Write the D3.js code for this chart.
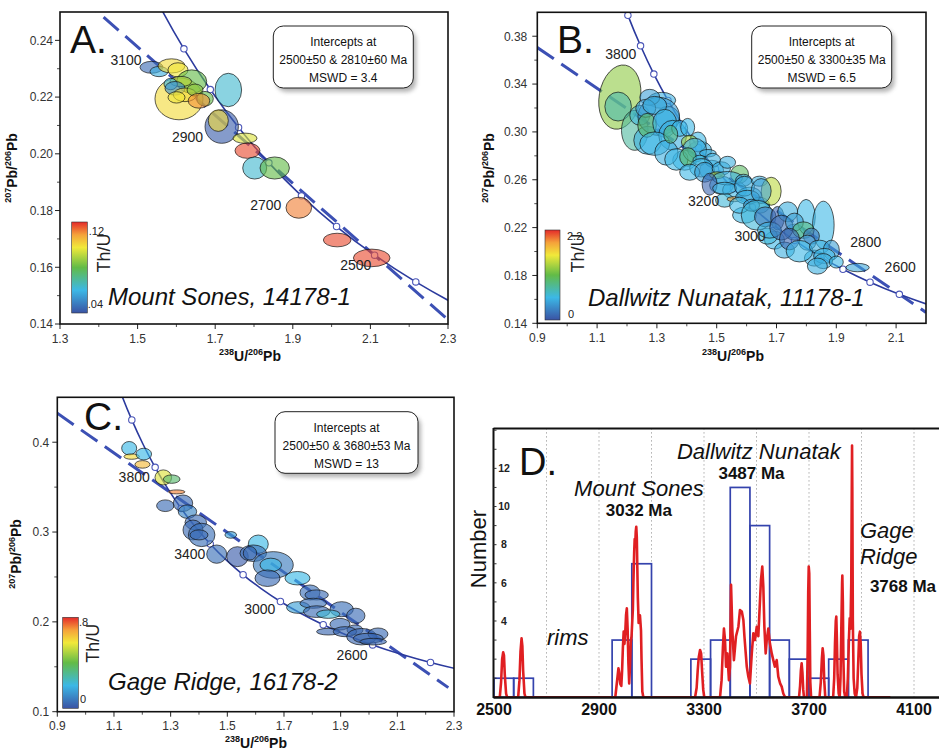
<!DOCTYPE html>
<html><head><meta charset="utf-8">
<script src="https://cdn.jsdelivr.net/npm/d3@7"></script>
<style>body{margin:0;background:#fff}svg{display:block;font-family:Arial,"Liberation Sans",sans-serif}</style>
</head><body>
<svg id="c" width="939" height="750"></svg>
<script>
// ---------------- DATA ----------------
// Concordia reference points (age Ma, 238U/206Pb, 207Pb/206Pb)
const concAge = [2200,2300,2400,2500,2600,2700,2800,2900,3000,3100,3200,3300,3400,3500,3600,3700,3800,3900,4000,4100,4200];
const concX = [2.4585,2.3324,2.2170,2.1108,2.0128,1.9223,1.8384,1.7602,1.6874,1.6194,1.5557,1.4959,1.4397,1.3868,1.3370,1.2898,1.2453,1.2030,1.1630,1.1249,1.0888];
const concY = [0.13782,0.14603,0.15483,0.16426,0.17437,0.18520,0.19682,0.20928,0.22266,0.23701,0.25243,0.26899,0.28675,0.30581,0.32631,0.34833,0.37201,0.39746,0.42483,0.45428,0.48619];

// Discordia end points
const discA = [[1.30,0.2617],[2.30,0.1415]];
const discB = [[0.90,0.3705],[2.20,0.1491]];
const discC = [[0.90,0.4323],[2.28,0.1268]];

// Ellipses: [238U/206Pb, 207Pb/206Pb, half-width x, half-height y, Th/U, tilt]
const ellA = [
[1.6067,0.2194,0.0619,0.0074,0.100],[1.5358,0.2305,0.0296,0.0021,0.045],[1.5552,0.2290,0.0232,0.0018,0.058],
[1.5874,0.2310,0.0348,0.0025,0.100],[1.6041,0.2296,0.0258,0.0025,0.098],[1.6394,0.2255,0.0387,0.0041,0.080],
[1.6113,0.2255,0.0278,0.0018,0.090],[1.5853,0.2246,0.0173,0.0020,0.060],[1.5964,0.2231,0.0258,0.0024,0.052],
[1.6222,0.2208,0.0302,0.0024,0.100],[1.6480,0.2225,0.0206,0.0021,0.085],[1.6003,0.2199,0.0219,0.0020,0.098],
[1.6737,0.2194,0.0214,0.0026,0.080],[1.6582,0.2187,0.0278,0.0026,0.110],[1.7338,0.2225,0.0343,0.0059,0.063],
[1.7168,0.2096,0.0430,0.0059,0.042],[1.7080,0.2117,0.0258,0.0038,0.100],[1.7768,0.2055,0.0309,0.0018,0.095],
[1.7832,0.2011,0.0322,0.0027,0.117],[1.8018,0.1950,0.0309,0.0039,0.063],[1.8534,0.1950,0.0379,0.0039,0.080],
[1.9155,0.1810,0.0330,0.0037,0.112],[2.0144,0.1696,0.0356,0.0024,0.117],[2.1034,0.1633,0.0472,0.0031,0.117]
];
const ellB = [
[1.1760,0.3291,0.0691,0.0271,1.25,10],[1.1703,0.3212,0.0444,0.0121,0.75],[1.2260,0.3013,0.0444,0.0167,0.80],
[1.2694,0.2930,0.0467,0.0117,0.50],[1.3161,0.3264,0.0467,0.0067,0.50],[1.3929,0.2763,0.0400,0.0083,0.55],
[1.4429,0.2847,0.0400,0.0075,0.50],[1.4830,0.2680,0.0400,0.0083,0.55],[1.5163,0.2554,0.0400,0.0075,0.50],
[1.5597,0.2513,0.0400,0.0075,0.55],[1.6098,0.2471,0.0400,0.0067,0.50],[1.5931,0.2304,0.0400,0.0067,0.55],
[1.6432,0.2387,0.0334,0.0067,0.60],[1.6933,0.2095,0.0334,0.0075,0.55],[1.7266,0.2012,0.0334,0.0067,0.50],
[1.8267,0.1945,0.0334,0.0067,0.50],[1.7600,0.2162,0.0334,0.0067,0.50],[1.3362,0.3114,0.0400,0.0100,0.55],
[1.2427,0.3139,0.0334,0.0083,0.60],[1.5264,0.2429,0.0300,0.0058,0.60],[1.6699,0.2129,0.0334,0.0067,0.60],
[1.3061,0.3130,0.0694,0.0159,0.38],[1.2761,0.3289,0.0334,0.0067,0.42],[1.2627,0.3197,0.0334,0.0075,0.42],
[1.2928,0.3222,0.0400,0.0075,0.50],[1.2671,0.3055,0.0310,0.0100,1.00],[1.3261,0.3072,0.0400,0.0117,0.55],
[1.3528,0.2972,0.0467,0.0125,0.50],[1.2928,0.2902,0.0501,0.0098,0.55],[1.3318,0.2826,0.0390,0.0104,0.50],
[1.3652,0.2770,0.0390,0.0090,0.55],[1.3762,0.3030,0.0267,0.0067,0.55],[1.4029,0.3038,0.0234,0.0075,0.55],
[1.3462,0.2980,0.0234,0.0075,0.90],[1.4373,0.2916,0.0277,0.0083,0.55],[1.4096,0.2916,0.0277,0.0056,1.30],
[1.4262,0.2847,0.0400,0.0100,0.50],[1.4039,0.2791,0.0277,0.0077,1.00],[1.4706,0.2822,0.0277,0.0031,0.50],
[1.4429,0.2763,0.0224,0.0042,0.60],[1.4863,0.2763,0.0267,0.0058,0.50],[1.4486,0.2700,0.0390,0.0077,0.55],
[1.4096,0.2663,0.0334,0.0067,0.55],[1.4596,0.2663,0.0334,0.0083,0.42],[1.5154,0.2694,0.0307,0.0056,0.50],
[1.5364,0.2746,0.0267,0.0050,0.50],[1.5013,0.2638,0.0250,0.0028,1.35],[1.5764,0.2646,0.0300,0.0075,1.00],
[1.5364,0.2613,0.0500,0.0056,0.50],[1.4763,0.2563,0.0250,0.0092,0.10],[1.5264,0.2529,0.0400,0.0050,0.50],
[1.5898,0.2596,0.0267,0.0050,0.38],[1.5931,0.2546,0.0334,0.0083,0.50],[1.6432,0.2588,0.0267,0.0042,0.50],
[1.5597,0.2438,0.0250,0.0021,1.90],[1.6031,0.2454,0.0400,0.0058,0.50],[1.6822,0.2504,0.0334,0.0117,1.40],
[1.6488,0.2506,0.0334,0.0104,0.42],[1.5764,0.2387,0.0334,0.0067,0.55],[1.6165,0.2387,0.0267,0.0050,0.38],
[1.6348,0.2304,0.0527,0.0125,0.60],[1.6625,0.2290,0.0360,0.0083,0.20],[1.7032,0.2279,0.0224,0.0098,0.10],
[1.7376,0.2332,0.0334,0.0083,0.50],[1.7990,0.2290,0.0307,0.0146,0.55],[1.8567,0.2221,0.0360,0.0200,0.55],
[1.6765,0.2179,0.0400,0.0067,0.50],[1.7166,0.2200,0.0390,0.0104,0.15],[1.7600,0.2246,0.0300,0.0075,0.42],
[1.7900,0.2179,0.0360,0.0069,0.90],[1.7433,0.2104,0.0334,0.0090,0.10],[1.8167,0.2129,0.0267,0.0067,0.20],
[1.8034,0.2074,0.0277,0.0063,0.38],[1.7767,0.2003,0.0444,0.0090,0.55],[1.8434,0.2039,0.0334,0.0056,0.50],
[1.8834,0.2012,0.0267,0.0083,0.42],[1.8600,0.1963,0.0360,0.0063,0.55],[1.8567,0.1920,0.0307,0.0063,0.50],
[1.9000,0.1912,0.0234,0.0050,0.55],[1.8367,0.1878,0.0334,0.0067,0.50],[1.9712,0.1866,0.0390,0.0035,0.45]
];
const ellC = [
[1.1537,0.3933,0.0265,0.0075,0.20],[1.1625,0.3840,0.0272,0.0030,0.60],[1.2052,0.3868,0.0275,0.0065,0.20],
[1.2006,0.3753,0.0265,0.0042,0.65],[1.2740,0.3608,0.0293,0.0084,0.55],[1.3037,0.3589,0.0293,0.0047,0.35],
[1.3213,0.3447,0.0293,0.0022,0.72],[1.2811,0.3293,0.0307,0.0065,0.05],[1.3436,0.3321,0.0342,0.0092,0.05],
[1.3594,0.3227,0.0325,0.0075,0.10],[1.3887,0.3107,0.0381,0.0084,0.05],[1.3788,0.3023,0.0353,0.0111,0.05],
[1.4095,0.2968,0.0469,0.0130,0.06],[1.4000,0.2968,0.0318,0.0056,0.05],[1.5122,0.2968,0.0205,0.0037,0.15],
[1.4625,0.2754,0.0353,0.0102,0.06],[1.5359,0.2726,0.0381,0.0111,0.02],[1.6093,0.2865,0.0353,0.0102,0.20],
[1.5916,0.2764,0.0469,0.0092,0.06],[1.5800,0.2764,0.0236,0.0075,0.05],[1.6622,0.2634,0.0706,0.0148,0.08],
[1.6534,0.2634,0.0381,0.0075,0.20],[1.6417,0.2486,0.0441,0.0092,0.05],[1.7476,0.2486,0.0441,0.0075,0.20],
[1.7917,0.2327,0.0353,0.0084,0.06],[1.8153,0.2300,0.0413,0.0056,0.05],[1.7504,0.2160,0.0413,0.0065,0.15],
[1.8033,0.2207,0.0469,0.0056,0.06],[1.8153,0.2114,0.0469,0.0065,0.05],[1.9035,0.2141,0.0413,0.0084,0.06],
[1.8563,0.2086,0.0413,0.0047,0.22],[1.9533,0.2068,0.0325,0.0084,0.05],[1.8975,0.1974,0.0353,0.0065,0.05],
[1.9505,0.1910,0.0282,0.0056,0.05],[1.8563,0.1891,0.0413,0.0037,0.04],[1.9152,0.1891,0.0413,0.0056,0.04],
[1.9741,0.1835,0.0529,0.0092,0.04],[2.0317,0.1865,0.0353,0.0067,0.05],[1.9974,0.1817,0.0529,0.0056,0.04],
[2.0150,0.1780,0.0469,0.0037,0.04]
];

// Concordia age labels [text, x, y]
const ageLabA = [["3100",1.4701,0.2331],["2900",1.6286,0.2060],["2700",1.8304,0.1819],["2500",2.0624,0.1609]];
const ageLabB = [["3800",1.1793,0.3648],["3200",1.4563,0.2421],["3000",1.6114,0.2129],["2800",1.9985,0.2079],["2600",2.1137,0.1870]];
const ageLabC = [["3800",1.1713,0.3608],["3400",1.3675,0.2754],["3000",1.6145,0.2141],["2600",1.9399,0.1631]];

const legendA = ["Intercepts at","2500±50 & 2810±60 Ma","MSWD = 3.4"];
const legendB = ["Intercepts at","2500±50 & 3300±35 Ma","MSWD = 6.5"];
const legendC = ["Intercepts at","2500±50 & 3680±53 Ma","MSWD = 13"];

// Panel D histogram (75 Ma bins) and probability curve
const binWidth = 75;
const binStart = [2500,2575,2950,3025,3250,3325,3400,3475,3550,3625,3700,3775,3850];
const binCount = [1,1,3,7,2,3,11,9,3,2,1,2,3];
const pdfCurve = [
[2500,0],[2522,0],[2527,0.8],[2531,2.0],[2535,2.36],[2538,2.2],[2541,1.2],[2546,0.2],[2550,0],
[2592,0],[2597,0.9],[2601,2.4],[2605,3.09],[2608,2.7],[2611,1.4],[2616,0.2],[2620,0],
[2962,0],[2966,0.5],[2970,1.0],[2974,1.52],[2977,1.3],[2981,0.7],[2985,0.6],[2988,1.4],[2991,2.6],[2994,3.44],
[2997,2.8],[3000,3.4],[3003,4.3],[3006,4.66],[3009,3.6],[3012,1.8],[3015,0.73],[3018,1.6],[3021,2.9],[3024,3.2],
[3027,4.05],[3029,4.6],[3031,6.0],[3034,7.6],[3036,8.3],[3038,8.0],[3040,8.7],[3042,8.94],[3044,8.4],[3046,6.8],
[3048,5.2],[3051,3.9],[3054,4.2],[3056,4.3],[3058,3.9],[3060,3.5],[3062,2.0],[3065,0.3],[3069,0],
[3266,0],[3272,0.5],[3276,1.4],[3280,2.1],[3285,2.48],[3289,2.3],[3293,1.3],[3297,0.4],[3301,0],
[3361,0],[3367,0.9],[3372,2.6],[3376,3.6],[3380,3.0],[3384,1.6],[3389,2.3],[3395,0.9],[3399,1.6],[3403,5.9],
[3408,3.5],[3414,1.95],[3422,3.2],[3431,3.7],[3437,4.57],[3444,4.5],[3450,4.05],[3454,3.2],[3459,2.3],[3463,1.6],
[3469,1.08],[3475,0.73],[3482,2.3],[3488,3.35],[3494,3.0],[3501,3.7],[3507,3.2],[3511,4.4],[3517,6.15],[3522,6.85],
[3526,5.8],[3530,3.7],[3535,2.3],[3539,3.0],[3545,3.6],[3551,2.83],[3558,2.3],[3564,1.95],[3570,1.6],[3577,1.95],
[3583,1.08],[3590,0.73],[3596,0.56],[3602,0.2],[3609,0],
[3662,0],[3666,0.6],[3669,1.4],[3672,1.78],[3675,1.3],[3678,0.4],[3681,0],
[3692,0],[3695,2.5],[3697,5.5],[3699,6.85],[3701,6.5],[3703,3.5],[3705,0.8],[3708,0],
[3740,0],[3745,0.8],[3749,2.0],[3752,2.57],[3755,2.2],[3758,0.9],[3762,0],
[3792,0],[3796,1.0],[3799,2.8],[3802,4.0],[3804,4.23],[3806,3.2],[3809,1.2],[3813,0.2],[3817,0],
[3820,1.0],[3823,3.5],[3826,6.0],[3827,6.38],[3829,5.0],[3831,2.0],[3834,0.3],[3838,0],
[3844,0],[3848,1.0],[3852,3.0],[3855,4.14],[3858,3.6],[3861,6.0],[3863,11.0],[3864,13.2],[3865,11.0],[3867,4.0],
[3870,1.0],[3874,0.2],[3879,0],[3884,0.5],[3888,2.0],[3891,3.2],[3894,3.44],[3897,2.8],[3900,1.2],[3904,0.2],[3908,0],[4010,0]
];
const dXTicks = [2500,2900,3300,3700,4100];
const dGrid = [2700,2900,3100,3300,3500,3700,3900,4100];
const dYLabels = [4,6,8,10,12];

// Th/U colour ramp
const thStops = [0,0.25,0.5,0.72,0.86,1];
const thColors = ["#3a53a4","#3cb8e6","#62bb47","#f1e93a","#f5a23a","#e42a2a"];

// ---------------- DRAW ----------------
const svg = d3.select("#c");
svg.append("rect").attr("width",939).attr("height",750).attr("fill","#fff");
const defs = svg.append("defs");
const flt = defs.append("filter").attr("id","shadow").attr("x","-20%").attr("y","-20%").attr("width","150%").attr("height","160%");
flt.append("feGaussianBlur").attr("stdDeviation",2.2);
const grad = defs.append("linearGradient").attr("id","thgrad").attr("x1",0).attr("y1",1).attr("x2",0).attr("y2",0);
thStops.forEach((s,i)=>grad.append("stop").attr("offset",s).attr("stop-color",thColors[i]));

function isoText(g, cx, cy, rot, parts, big, small){
  const t = g.append("text").attr("transform",`translate(${cx},${cy}) rotate(${rot})`)
    .attr("text-anchor","middle").attr("font-weight","bold").attr("fill","#111");
  let up=false;
  parts.forEach(p=>{
    const sup = p[1];
    const ts = t.append("tspan").text(p[0]).attr("font-size", sup?small:big);
    if (sup && !up){ ts.attr("dy",-6); up=true; }
    else if (!sup && up){ ts.attr("dy",6); up=false; }
  });
}

function scatterPanel(p){
  const [L,T,R,B] = p.box;
  const x = d3.scaleLinear().domain(p.xDomain).range([L,R]);
  const y = d3.scaleLinear().domain(p.yDomain).range([B,T]);
  defs.append("clipPath").attr("id","clip"+p.id).append("rect").attr("x",L).attr("y",T).attr("width",R-L).attr("height",B-T);
  const g = svg.append("g");
  const plot = g.append("g").attr("clip-path",`url(#clip${p.id})`);
  plot.append("line").attr("x1",x(p.disc[0][0])).attr("y1",y(p.disc[0][1])).attr("x2",x(p.disc[1][0])).attr("y2",y(p.disc[1][1]))
    .attr("stroke","#3c50b4").attr("stroke-width",3).attr("stroke-dasharray","20,9");
  const pts = concAge.map((a,i)=>({a, x:concX[i], y:concY[i]}));
  plot.append("path").datum(pts).attr("d", d3.line().x(d=>x(d.x)).y(d=>y(d.y)).curve(d3.curveCatmullRom))
    .attr("fill","none").attr("stroke","#2c3b9e").attr("stroke-width",1.6);
  plot.selectAll("circle.m").data(pts.filter(d=>(d.a-2200)%p.markerStep===0)).join("circle")
    .attr("cx",d=>x(d.x)).attr("cy",d=>y(d.y)).attr("r",3.2).attr("fill","#fff").attr("stroke","#4b56b8").attr("stroke-width",1.1);
  const td = p.thDomain;
  const col = d3.scaleLinear().domain(thStops.map(s=>td[0]+s*(td[1]-td[0]))).range(thColors).clamp(true);
  plot.selectAll("ellipse").data(p.ell).join("ellipse")
    .attr("cx",d=>x(d[0])).attr("cy",d=>y(d[1]))
    .attr("rx",d=>x(d[0]+d[2])-x(d[0])).attr("ry",d=>y(d[1])-y(d[1]+d[3]))
    .attr("transform",d=>d[5]?`rotate(${d[5]},${x(d[0])},${y(d[1])})`:null)
    .attr("fill",d=>col(d[4])).attr("fill-opacity",p.opacity)
    .attr("stroke","#111").attr("stroke-opacity",0.85).attr("stroke-width",0.8);
  g.selectAll("text.age").data(p.ageLab).join("text").attr("class","age")
    .attr("x",d=>x(d[1])).attr("y",d=>y(d[2])).attr("dy","0.36em").attr("text-anchor","middle")
    .attr("font-size",14).attr("fill","#222").text(d=>d[0]);
  const lg = p.legendBox;
  g.append("rect").attr("x",L+lg[0]+3).attr("y",T+lg[1]+4).attr("width",lg[2]).attr("height",lg[3]).attr("rx",10)
    .attr("fill","#777").attr("opacity",0.55).attr("filter","url(#shadow)");
  g.append("rect").attr("x",L+lg[0]).attr("y",T+lg[1]).attr("width",lg[2]).attr("height",lg[3]).attr("rx",10)
    .attr("fill","#fff").attr("stroke","#222").attr("stroke-width",1);
  p.legend.forEach((s,i)=>g.append("text").attr("x",L+lg[0]+lg[2]/2).attr("y",T+lg[1]+16+i*17.8).attr("dy","0.35em")
    .attr("text-anchor","middle").attr("font-size",12).attr("fill","#111").text(s));
  g.append("text").attr("x",p.letterPos[0]).attr("y",p.letterPos[1]).attr("font-size",39).attr("fill","#111").text(p.letter);
  g.append("text").attr("x",p.namePos[0]).attr("y",p.namePos[1]).attr("font-size",24).attr("font-style","italic").attr("fill","#111").text(p.name);
  const cb = p.cbar;
  g.append("rect").attr("x",L+cb[0]).attr("y",T+cb[1]).attr("width",cb[2]).attr("height",cb[3]).attr("fill","url(#thgrad)").attr("stroke","#333").attr("stroke-width",0.6);
  g.append("text").attr("x",L+cb[0]+cb[2]+p.cbLab[0][0]).attr("y",T+cb[1]+p.cbLab[0][1]).attr("dy","0.35em").attr("font-size",11).attr("fill","#222").text(p.thLabels[1]);
  g.append("text").attr("x",L+cb[0]+cb[2]+p.cbLab[1][0]).attr("y",T+cb[1]+cb[3]+p.cbLab[1][1]).attr("dy","0.35em").attr("font-size",11).attr("fill","#222").text(p.thLabels[0]);
  g.append("text").attr("transform",`translate(${L+cb[0]+cb[2]+p.cbLab[2][0]},${T+cb[1]+p.cbLab[2][1]}) rotate(-90)`)
    .attr("text-anchor","middle").attr("dy","0.35em").attr("font-size",18).attr("fill","#222").text("Th/U");
  const ax = g.append("g").attr("stroke","#222");
  p.xTicks.forEach(v=>ax.append("line").attr("x1",x(v)).attr("x2",x(v)).attr("y1",B).attr("y2",B+5).attr("stroke-width",1));
  p.xMinor.forEach(v=>ax.append("line").attr("x1",x(v)).attr("x2",x(v)).attr("y1",B).attr("y2",B+3).attr("stroke-width",0.8));
  p.yTicks.forEach(v=>ax.append("line").attr("y1",y(v)).attr("y2",y(v)).attr("x1",L).attr("x2",L-5).attr("stroke-width",1));
  p.yMinor.forEach(v=>ax.append("line").attr("y1",y(v)).attr("y2",y(v)).attr("x1",L).attr("x2",L-3).attr("stroke-width",0.8));
  g.selectAll("text.xt").data(p.xTicks).join("text").attr("class","xt").attr("x",d=>x(d)).attr("y",B+p.xLabOff)
    .attr("text-anchor","middle").attr("font-size",12).attr("fill","#333").text(d3.format(".1f"));
  g.selectAll("text.yt").data(p.yTicks).join("text").attr("class","yt").attr("x",L-p.yLabOff).attr("y",d=>y(d)).attr("dy","0.36em")
    .attr("text-anchor","end").attr("font-size",12).attr("fill","#333").text(d3.format(p.yFmt));
  g.append("rect").attr("x",L).attr("y",T).attr("width",R-L).attr("height",B-T).attr("fill","none").attr("stroke","#111").attr("stroke-width",1.6);
  isoText(g, p.yTitle[0], p.yTitle[1], -90, [["207",1],["Pb/",0],["206",1],["Pb",0]], 14, 9);
  if (p.xTitle) isoText(g, p.xTitle[0], p.xTitle[1], 0, [["238",1],["U/",0],["206",1],["Pb",0]], 14, 9);
}

scatterPanel({id:"A", box:[60,12,448,324], xDomain:[1.3,2.3], yDomain:[0.14,0.25], opacity:0.62,
  xTicks:[1.3,1.5,1.7,1.9,2.1,2.3], xMinor:[1.4,1.6,1.8,2.0,2.2],
  yTicks:[0.14,0.16,0.18,0.20,0.22,0.24], yMinor:[0.15,0.17,0.19,0.21,0.23], yFmt:".2f", xLabOff:19, yLabOff:7,
  disc:discA, markerStep:100, ell:ellA, thDomain:[0.04,0.12], thLabels:[".04",".12"], ageLab:ageLabA,
  legend:legendA, legendBox:[213.3,14,140,62], letter:"A.", letterPos:[70,53], name:"Mount Sones, 14178-1", namePos:[108,305],
  cbar:[11.7,210,15.6,91], cbLab:[[1.5,9.5],[0.5,-8.5],[16,31]], yTitle:[17,168], xTitle:[250,361]});

scatterPanel({id:"B", box:[537.3,12.3,926,323.3], xDomain:[0.9,2.2], yDomain:[0.14,0.40], opacity:0.6,
  xTicks:[0.9,1.1,1.3,1.5,1.7,1.9,2.1], xMinor:[1.0,1.2,1.4,1.6,1.8,2.0],
  yTicks:[0.14,0.18,0.22,0.26,0.30,0.34,0.38], yMinor:[0.16,0.20,0.24,0.28,0.32,0.36], yFmt:".2f", xLabOff:19, yLabOff:10,
  disc:discB, markerStep:100, ell:ellB, thDomain:[0,2.2], thLabels:["0","2.2"], ageLab:ageLabB,
  legend:legendB, legendBox:[214.4,13.7,140,62], letter:"B.", letterPos:[557,53], name:"Dallwitz Nunatak, 11178-1", namePos:[588,306],
  cbar:[7.7,217.7,15,90], cbLab:[[7,6],[8,-5.5],[18,23]], yTitle:[494,168], xTitle:[733,361]});

scatterPanel({id:"C", box:[57.3,397.3,454,711.7], xDomain:[0.9,2.3], yDomain:[0.1,0.45], opacity:0.64,
  xTicks:[0.9,1.1,1.3,1.5,1.7,1.9,2.1,2.3], xMinor:[1.0,1.2,1.4,1.6,1.8,2.0,2.2],
  yTicks:[0.1,0.2,0.3,0.4], yMinor:[0.15,0.25,0.35], yFmt:".1f", xLabOff:18, yLabOff:8,
  disc:discC, markerStep:200, ell:ellC, thDomain:[0,0.8], thLabels:["0",".8"], ageLab:ageLabC,
  legend:legendC, legendBox:[217.7,14.4,143,61.6], letter:"C.", letterPos:[84,430], name:"Gage Ridge, 16178-2", namePos:[108,690],
  cbar:[5.4,220,15.6,91], cbLab:[[0.7,5],[1.7,-9],[14,26]], yTitle:[21,554], xTitle:[256,748]});

// ---------- Panel D ----------
(function(){
  const xD = d3.scaleLinear().domain([2500,4200]).range([494,940.25]);
  const yD = d3.scaleLinear().domain([0,14.1]).range([697.3,428.3]);
  const g = svg.append("g");
  defs.append("clipPath").attr("id","clipD").append("rect").attr("x",493).attr("y",428).attr("width",446).attr("height",270);
  const plot = g.append("g").attr("clip-path","url(#clipD)");
  plot.selectAll("line.grid").data(dGrid).join("line").attr("class","grid")
    .attr("x1",d=>xD(d)).attr("x2",d=>xD(d)).attr("y1",yD.range()[1]).attr("y2",yD.range()[0])
    .attr("stroke","#9a9a9a").attr("stroke-width",1).attr("stroke-dasharray","1.2,2.8");
  plot.selectAll("rect.bin").data(binStart).join("rect").attr("class","bin")
    .attr("x",d=>xD(d)).attr("width",d=>xD(d+binWidth)-xD(d))
    .attr("y",(d,i)=>yD(binCount[i])).attr("height",(d,i)=>yD(0)-yD(binCount[i]))
    .attr("fill","none").attr("stroke","#3443ad").attr("stroke-width",1.7);
  plot.append("path").datum(pdfCurve).attr("d",d3.line().x(d=>xD(d[0])).y(d=>yD(d[1])))
    .attr("fill","none").attr("stroke","#e01f22").attr("stroke-width",2.6).attr("stroke-linejoin","round");
  const x0 = xD(2500)-0.5;
  g.append("line").attr("x1",x0).attr("x2",939).attr("y1",428.5).attr("y2",428.5).attr("stroke","#111").attr("stroke-width",2);
  g.append("line").attr("x1",x0).attr("x2",939).attr("y1",697.5).attr("y2",697.5).attr("stroke","#111").attr("stroke-width",2.4);
  g.append("line").attr("x1",x0).attr("x2",x0).attr("y1",428).attr("y2",698).attr("stroke","#111").attr("stroke-width",2);
  d3.range(1,15).forEach(v=>g.append("line").attr("x1",x0).attr("x2",x0+3).attr("y1",yD(v)).attr("y2",yD(v)).attr("stroke","#333").attr("stroke-width",1));
  g.selectAll("text.dy").data(dYLabels).join("text").attr("class","dy").attr("x",504).attr("y",d=>yD(d)).attr("dy","0.36em")
    .attr("text-anchor","middle").attr("font-size",10.5).attr("font-weight","bold").attr("fill","#222").text(d=>d);
  g.selectAll("text.dx").data(dXTicks).join("text").attr("class","dx").attr("x",d=>xD(d)).attr("y",715)
    .attr("text-anchor","middle").attr("font-size",16).attr("font-weight","bold").attr("fill","#111").text(d=>d);
  g.append("text").attr("transform","translate(478,549) rotate(-90)").attr("text-anchor","middle").attr("dy","0.35em")
    .attr("font-size",22).attr("fill","#111").text("Number");
  g.append("text").attr("x",519).attr("y",475).attr("font-size",38).attr("fill","#111").text("D.");
  const it = (t,a,v,anchor,size,weight,style)=>g.append("text").attr("x",xD(a)).attr("y",yD(v)).attr("text-anchor",anchor)
    .attr("font-size",size).attr("font-weight",weight).attr("font-style",style).attr("fill","#111").text(t);
  it("Mount Sones",3052,10.55,"middle",22,"normal","italic");
  it("3032 Ma",3052,9.50,"middle",17,"bold","normal");
  it("Dallwitz Nunatak",3509,12.49,"middle",22,"normal","italic");
  it("3487 Ma",3481,11.44,"middle",17,"bold","normal");
  it("Gage",3894,8.35,"start",22,"normal","italic");
  it("Ridge",3894,6.99,"start",22,"normal","italic");
  it("3768 Ma",3932,5.53,"start",17,"bold","normal");
  it("rims",2702,2.74,"start",22,"normal","italic");
})();
</script>
</body></html>
